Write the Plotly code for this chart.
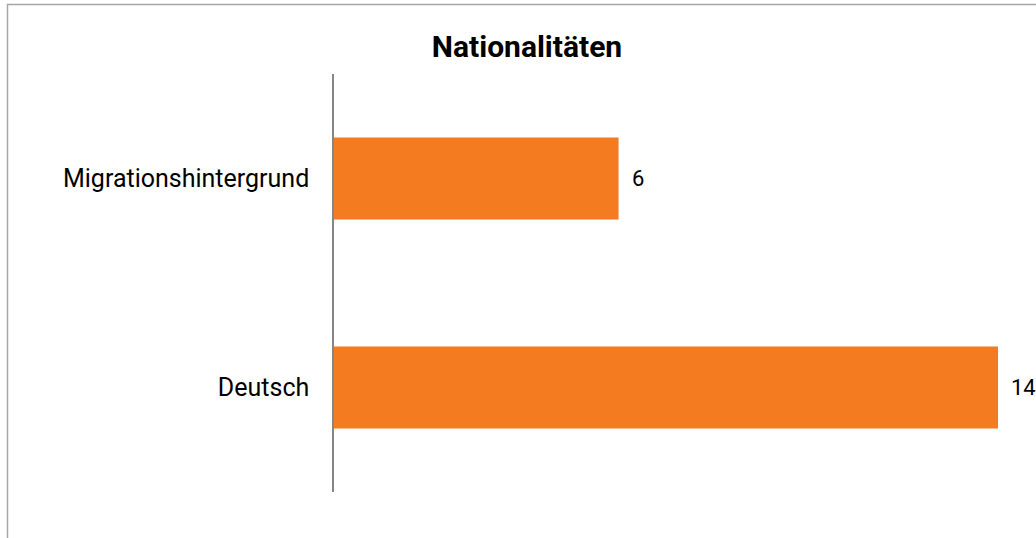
import plotly.graph_objects as go

# Kategorien und Werte
categories = ["Deutsch", "Migrationshintergrund"]
values = [14, 6]
title_text = "Nationalitäten"

bar_color = "#F47B20"
font_family = "Roboto, Calibri, Carlito, sans-serif"

fig = go.Figure()
fig.add_trace(go.Bar(
    x=values,
    y=categories,
    orientation="h",
    marker=dict(color=bar_color, line=dict(width=0)),
    hoverinfo="x+y",
))

# Wertebeschriftungen rechts neben den Balken
for cat, val in zip(categories, values):
    fig.add_annotation(
        x=val, y=cat, xref="x", yref="y",
        text=str(val), showarrow=False,
        xanchor="left", xshift=11,
        font=dict(family=font_family, size=22, color="#000000"),
    )

W, H = 1036, 538
ml, mr, mt, mb = 334, 38, 74, 46
pw, ph = W - ml - mr, H - mt - mb

# Rahmen um das gesamte Diagramm (rechts und unten außerhalb des Bildes)
fig.add_shape(
    type="rect", xref="paper", yref="paper",
    x0=(7.5 - ml) / pw, x1=(W + 10 - ml) / pw,
    y0=-(mb + 10) / ph, y1=(H - mb - 4.5) / ph,
    line=dict(color="#A6A6A6", width=1.5),
    fillcolor="rgba(0,0,0,0)", layer="below",
)

fig.update_layout(
    width=W, height=H,
    margin=dict(l=ml, r=mr, t=mt, b=mb),
    paper_bgcolor="white", plot_bgcolor="white",
    showlegend=False,
    bargap=0.608,
    title=dict(
        text="<b>" + title_text + "</b>",
        x=527 / W, xanchor="center",
        y=1 - 46 / H, yanchor="middle",
        font=dict(family=font_family, size=30, color="#000000"),
    ),
    xaxis=dict(
        range=[0, 14], visible=False, fixedrange=True,
    ),
    yaxis=dict(
        categoryorder="array", categoryarray=categories,
        showline=True, linecolor="#868686", linewidth=1.5,
        showgrid=False, zeroline=False, ticks="",
        ticklabelstandoff=18,
        tickfont=dict(family=font_family, size=25, color="#000000"),
        fixedrange=True,
    ),
)

fig.write_html("out.html")
